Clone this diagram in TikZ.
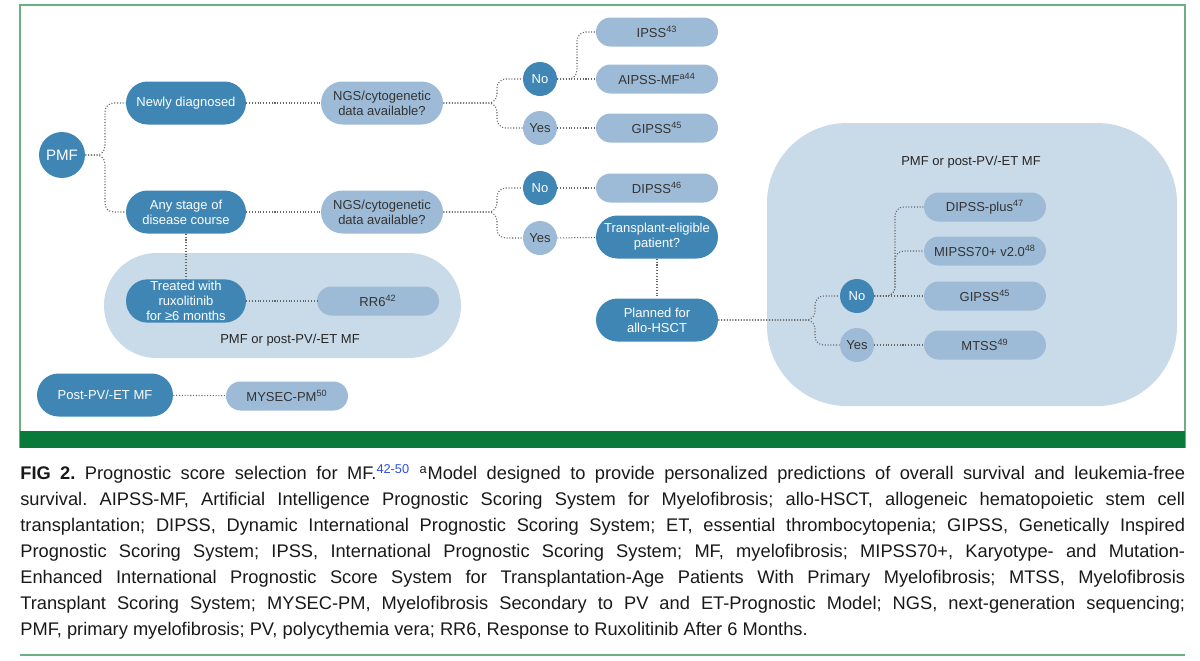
\documentclass[tikz,border=0pt]{standalone}
\usepackage{fontspec}
\setmainfont{Liberation Sans}
\usetikzlibrary{positioning}
\definecolor{darkblue}{HTML}{3F86B4}
\definecolor{lightblue}{HTML}{9DBBD7}
\definecolor{boxblue}{HTML}{C9DAE8}
\definecolor{framegreen}{HTML}{6BAF86}
\definecolor{bargreen}{HTML}{0A7A3A}
\definecolor{refblue}{HTML}{2A4FE0}
\begin{document}
\begin{tikzpicture}[x=0.02cm,y=-0.02cm,
                dark/.style = {fill=darkblue, text=white, rounded corners=0.43cm, minimum width=2.4cm, minimum height=0.86cm, align=center, font=\fontsize{7.4}{8.6}\selectfont, inner sep=1pt},
                score/.style = {fill=lightblue, text=black!80, rounded corners=0.29cm, minimum width=2.44cm, minimum height=0.58cm, align=center, font=\fontsize{7.4}{8.6}\selectfont},
                ask/.style = {score, rounded corners=0.43cm, minimum height=0.86cm},
                no/.style = {circle, fill=darkblue, text=white, minimum size=0.68cm, inner sep=0pt, font=\fontsize{7.4}{8.6}\selectfont},
                yes/.style = {no, fill=lightblue, text=black!80},
                group/.style = {fill=boxblue},
                link/.style = {draw=black!60, densely dotted, line width=0.6pt, rounded corners=5pt}]
  \useasboundingbox (0,0) rectangle (1200,660);
  % frame
  \draw[framegreen, line width=0.8pt] (20,448) -- (20,5) -- (1185,5) -- (1185,448);
  \fill[bargreen] (20,431) rectangle (1185,448);
  \draw[framegreen, line width=1pt] (20,655) -- (1185,655);
  % groups
  \fill[group, rounded corners=1.05cm] (104,253) rectangle (461,358);
  \fill[group, rounded corners=1.6cm] (767,123) rectangle (1177,406);
  \node[text=black!85, font=\fontsize{7.4}{8.6}\selectfont] (lgroup) at (290,340) {PMF or post-PV/-ET MF};
  \node[text=black!85, font=\fontsize{7.4}{8.6}\selectfont] (rgroup) at (971,162) {PMF or post-PV/-ET MF};
  % nodes
  \node[no, minimum size=0.92cm, font=\fontsize{8.6}{9}\selectfont] (pmf) at (62,155) {PMF};
  \node[dark] (newly) at (186,103) {Newly diagnosed};
  \node[dark] (any) at (186,212) {Any stage of\\disease course};
  \node[ask] (ngs1) at (382,103) {NGS/cytogenetic\\data available?};
  \node[ask] (ngs2) at (382,212) {NGS/cytogenetic\\data available?};
  \node[dark] (treated) at (186,301) {Treated with\\ruxolitinib\\for ≥6 months};
  \node[score] (rr6) at (378,301) {RR6\textsuperscript{42}};
  \node[dark, minimum width=2.72cm] (post) at (105,395) {Post-PV/-ET MF};
  \node[score] (mysec) at (287,396) {MYSEC-PM\textsuperscript{50}};
  \node[no] (no1) at (540,79) {No};
  \node[yes] (yes1) at (540,128) {Yes};
  \node[no] (no2) at (540,188) {No};
  \node[yes] (yes2) at (540,238) {Yes};
  \node[score] (ipss) at (657,32) {IPSS\textsuperscript{43}};
  \node[score] (aipss) at (657,79) {AIPSS-MF\textsuperscript{a44}};
  \node[score] (gipss1) at (657,128) {GIPSS\textsuperscript{45}};
  \node[score] (dipss) at (657,188) {DIPSS\textsuperscript{46}};
  \node[dark, minimum width=2.44cm] (transplant) at (657,237) {Transplant-eligible\\patient?};
  \node[dark, minimum width=2.44cm] (planned) at (657,320) {Planned for\\allo-HSCT};
  \node[no] (no3) at (857,296) {No};
  \node[yes] (yes3) at (857,345) {Yes};
  \node[score] (dplus) at (985,207) {DIPSS-plus\textsuperscript{47}};
  \node[score] (mipss) at (985,251) {MIPSS70+ v2.0\textsuperscript{48}};
  \node[score] (gipss2) at (985,296) {GIPSS\textsuperscript{45}};
  \node[score] (mtss) at (985,345) {MTSS\textsuperscript{49}};
  % connectors
  \draw[link] (pmf) -- (105,155) |- (newly);
  \draw[link] (pmf) -- (105,155) |- (any);
  \draw[link] (newly) -- (ngs1);
  \draw[link] (any) -- (ngs2);
  \draw[link] (any) -- (treated);
  \draw[link] (treated) -- (rr6);
  \draw[link] (post) -- (mysec);
  \draw[link] (ngs1) -- (497,103) |- (no1);
  \draw[link] (ngs1) -- (497,103) |- (yes1);
  \draw[link] (ngs2) -- (497,212) |- (no2);
  \draw[link] (ngs2) -- (497,212) |- (yes2);
  \draw[link] (no1) -- (aipss);
  \draw[link] (no1) -- (577,79) |- (ipss);
  \draw[link] (yes1) -- (gipss1);
  \draw[link] (no2) -- (dipss);
  \draw[link] (yes2) -- (transplant);
  \draw[link] (transplant) -- (planned);
  \draw[link] (planned) -- (815,320) |- (no3);
  \draw[link] (planned) -- (815,320) |- (yes3);
  \draw[link] (no3) -- (gipss2);
  \draw[link] (no3) -- (895,296) |- (dplus);
  \draw[link] (no3) -- (895,296) |- (mipss);
  \draw[link] (yes3) -- (mtss);
  % caption
  \node[anchor=north west, inner sep=0pt, text width=23.3cm, align=justify,
        font=\fontsize{10.4}{14.8}\selectfont, text=black!90] (caption) at (20,464)
  {\hyphenpenalty=10000\exhyphenpenalty=10000\frenchspacing
   \textbf{FIG 2.} Prognostic score selection for MF.\textsuperscript{\color{refblue}42-50} \textsuperscript{a}Model designed to provide personalized predictions of overall survival and leukemia-free\linebreak
   survival. AIPSS-MF, Artificial Intelligence Prognostic Scoring System for Myelofibrosis; allo-HSCT, allogeneic hematopoietic stem cell\linebreak
   transplantation; DIPSS, Dynamic International Prognostic Scoring System; ET, essential thrombocytopenia; GIPSS, Genetically Inspired\linebreak
   Prognostic Scoring System; IPSS, International Prognostic Scoring System; MF, myelofibrosis; MIPSS70+, Karyotype- and Mutation-\linebreak
   Enhanced International Prognostic Score System for Transplantation-Age Patients With Primary Myelofibrosis; MTSS, Myelofibrosis\linebreak
   Transplant Scoring System; MYSEC-PM, Myelofibrosis Secondary to PV and ET-Prognostic Model; NGS, next-generation sequencing;\linebreak
   PMF, primary myelofibrosis; PV, polycythemia vera; RR6, Response to Ruxolitinib After 6 Months.};
\end{tikzpicture}
\end{document}
